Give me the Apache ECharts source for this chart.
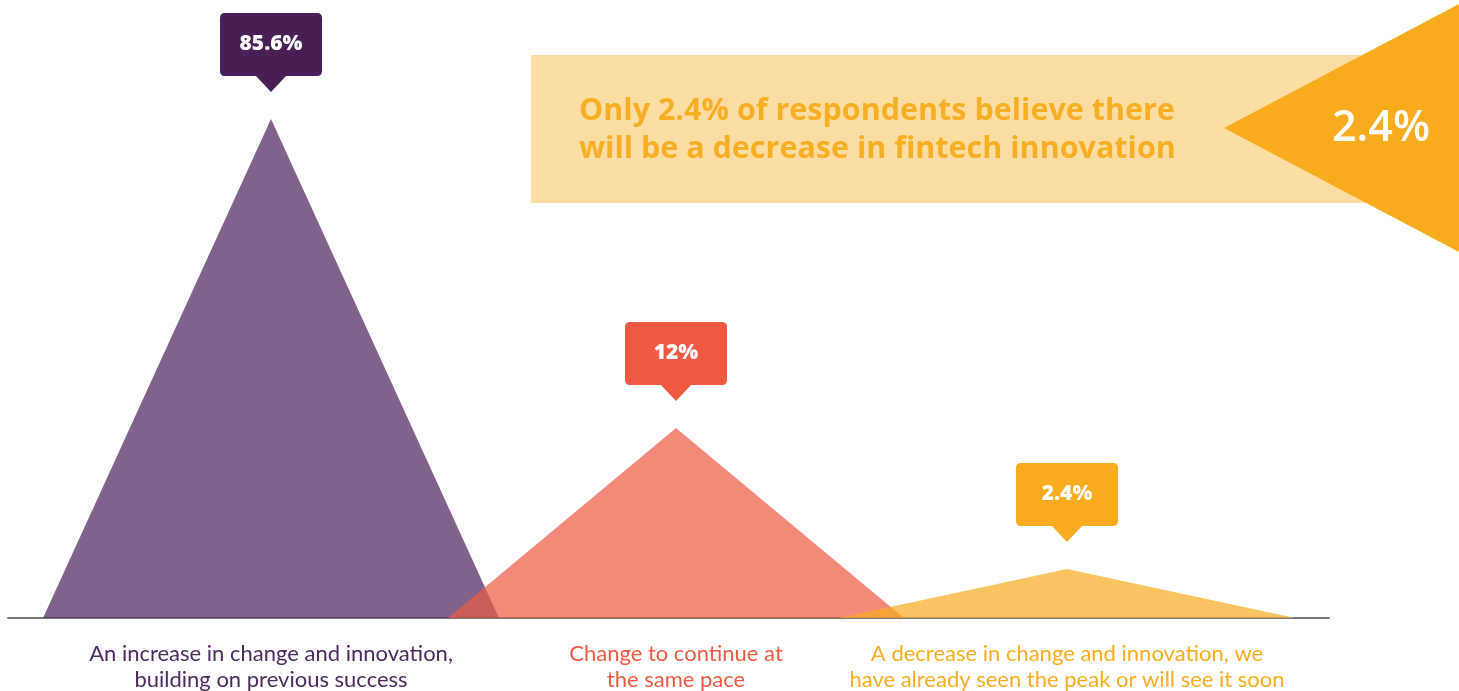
<!DOCTYPE html>
<html>
<head>
<meta charset="utf-8">
<script src="https://cdn.jsdelivr.net/npm/echarts@6/dist/echarts.min.js"></script>
<style>html,body{margin:0;padding:0;background:#fff;}#chart{width:1459px;height:691px;}</style>
</head>
<body>
<div id="chart"></div>
<script>
// ---- data ----
const categories = [
  'An increase in change and innovation,\nbuilding on previous success',
  'Change to continue at\nthe same pace',
  'A decrease in change and innovation, we\nhave already seen the peak or will see it soon'
];
const values = [85.6, 12, 2.4];            // percent shown in callouts
const shapeHeights = [99.8, 38, 9.8];      // drawn peak heights (0-100 scale)
const colors = ['#4a1f58', '#f05a42', '#f8ac1e'];
const textColors = ['#4b2b5c', '#f05a42', '#f8ae22'];
const headline = 'Only 2.4% of respondents believe there\nwill be a decrease in fintech innovation';
const headlineValue = '2.4%';

// ---- layout ----
const peakX = [263, 668, 1059];
const halfWidth = 228;

const calloutPath = 'path://M5,0 L97,0 Q102,0 102,5 L102,58 Q102,63 97,63 L66,63 L51,79 L36,63 L5,63 Q0,63 0,58 L0,5 Q0,0 5,0 Z';

const chart = echarts.init(document.getElementById('chart'));
const series = [];
categories.forEach((c, i) => {
  series.push({
    type: 'line', silent: true, symbol: 'none', z: 2 + i,
    data: [[peakX[i] - halfWidth, 0], [peakX[i], shapeHeights[i]], [peakX[i] + halfWidth, 0]],
    lineStyle: { width: 0 },
    areaStyle: { color: colors[i], opacity: 0.7 }
  });
});
series.push({
  type: 'scatter', silent: true, z: 10,
  symbol: calloutPath, symbolSize: [102, 79], symbolOffset: [0, -66.5],
  data: values.map((v, i) => ({ value: [peakX[i], shapeHeights[i]], itemStyle: { color: colors[i], opacity: 1 } })),
  label: {
    show: true, position: 'inside', offset: [0, -8],
    formatter: p => values[p.dataIndex] + '%',
    color: '#fff', fontFamily: 'Open Sans', fontWeight: 800, fontSize: 21
  }
});
series.push({
  type: 'scatter', silent: true, z: 10, symbolSize: 1,
  data: categories.map((c, i) => ({ value: [peakX[i], 0], itemStyle: { color: 'transparent', opacity: 1 },
    label: { color: textColors[i] } })),
  label: {
    show: true, position: 'bottom', distance: 22,
    formatter: p => categories[p.dataIndex],
    fontFamily: 'Lato', fontSize: 22, lineHeight: 26, align: 'center'
  }
});

chart.setOption({
  animation: false,
  backgroundColor: '#fff',
  grid: { left: 8, right: 130, top: 118, bottom: 73 },
  xAxis: { type: 'value', min: 0, max: 1321,
    axisLine: { show: true, lineStyle: { color: '#7a7a7a', width: 2 } },
    axisTick: { show: false }, axisLabel: { show: false }, splitLine: { show: false } },
  yAxis: { type: 'value', min: 0, max: 100, show: false },
  series: series,
  graphic: [
    { type: 'rect', left: 531, top: 55, shape: { width: 928, height: 148 },
      style: { fill: '#fcdea5' }, z: 1 },
    { type: 'text', left: 579, top: 92, z: 2,
      style: { text: headline, fill: '#f8ae22', font: 'bold 30.5px "Open Sans"', lineHeight: 38 } },
    { type: 'polygon', z: 3, shape: { points: [[1224, 128], [1459, 4], [1459, 252]] },
      style: { fill: '#f8ac1e' } },
    { type: 'text', x: 1381, y: 129, z: 4,
      style: { text: headlineValue, fill: '#fff', font: '600 43px "Open Sans"', align: 'center', verticalAlign: 'middle' } }
  ]
});
</script>
</body>
</html>
